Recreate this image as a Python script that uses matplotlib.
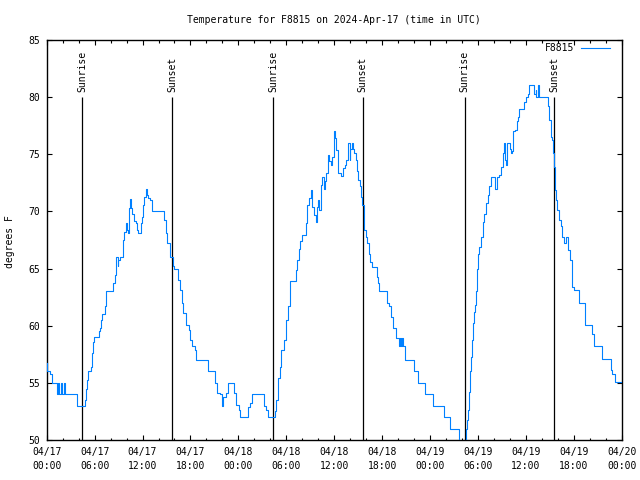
import matplotlib
matplotlib.use("Agg")
import matplotlib.pyplot as plt
from matplotlib.lines import Line2D
from datetime import datetime, timedelta

START = datetime(2024, 4, 17)
STATION = "F8815"

# hours since 04/17 00:00 UTC where the reading changes, and the new value (deg F)
HOURS = [0.00, 0.08, 0.41, 0.66, 1.25, 1.45, 1.60, 1.80, 1.95, 2.15, 2.30, 3.83,
         4.79, 4.87, 4.99, 5.20, 5.49, 5.62, 5.74, 5.83, 5.91, 6.58, 6.66, 6.79,
         6.91, 7.29, 7.41, 8.33, 8.54, 8.66, 8.74, 8.87, 8.99, 9.16, 9.58, 9.70,
         9.91, 10.04, 10.20, 10.33, 10.45, 10.58, 10.70, 10.87, 11.16, 11.33, 11.45, 11.87,
         11.99, 12.12, 12.24, 12.41, 12.49, 12.62, 12.74, 12.99, 13.16, 14.70, 14.91, 15.12,
         15.49, 15.83, 16.00, 16.46, 16.67, 16.92, 17.08, 17.42, 17.83, 18.00, 18.25, 18.54,
         18.67, 20.21, 21.04, 21.33, 21.67, 21.96, 22.08, 22.42, 22.71, 23.42, 23.75, 24.08,
         24.17, 25.21, 25.50, 25.71, 27.17, 27.50, 27.71, 28.54, 28.75, 28.96, 29.17, 29.38,
         29.67, 29.92, 30.21, 30.42, 30.50, 31.17, 31.33, 31.58, 31.75, 31.96, 32.42, 32.63,
         32.83, 33.13, 33.25, 33.42, 33.67, 33.83, 34.00, 34.08, 34.29, 34.38, 34.50, 34.71,
         34.88, 35.00, 35.21, 35.33, 35.54, 35.75, 35.92, 36.08, 36.25, 36.46, 36.88, 37.08,
         37.29, 37.50, 37.67, 37.75, 37.92, 38.04, 38.21, 38.33, 38.54, 38.75, 38.88, 39.04,
         39.17, 39.33, 39.50, 39.67, 39.79, 39.92, 40.08, 40.33, 40.54, 40.71, 41.33, 41.46,
         41.67, 42.63, 42.92, 43.13, 43.42, 43.75, 44.17, 44.30, 44.38, 44.50, 44.58, 44.88,
         45.95, 46.45, 47.41, 48.41, 49.70, 50.49, 51.66, 52.45, 52.58, 52.70, 52.83, 53.00,
         53.13, 53.25, 53.33, 53.46, 53.63, 53.75, 53.88, 54.00, 54.17, 54.38, 54.58, 54.79,
         55.00, 55.21, 55.42, 55.63, 56.17, 56.33, 56.58, 56.92, 57.08, 57.21, 57.33, 57.50,
         57.63, 58.00, 58.13, 58.25, 58.42, 58.67, 58.83, 59.00, 59.17, 59.79, 60.00, 60.21,
         60.42, 61.08, 61.25, 61.33, 61.46, 61.67, 62.71, 62.92, 63.13, 63.25, 63.42, 63.54,
         63.63, 63.75, 63.96, 64.17, 64.38, 64.58, 64.79, 65.00, 65.33, 65.50, 65.75, 65.83,
         66.04, 66.67, 67.38, 68.33, 68.54, 69.58, 70.63, 70.83, 71.13, 72.00]
TEMP_F = [56.7, 56.0, 55.8, 55.0, 54.0, 55.0, 54.0, 55.0, 54.0, 55.0, 54.0, 53.0,
          53.5, 54.5, 55.25, 56.0, 56.4, 57.6, 58.3, 58.6, 59.0, 59.5, 59.8, 60.5,
          61.0, 61.7, 63.0, 63.7, 64.4, 65.6, 66.0, 65.2, 65.75, 66.0, 67.5, 68.2,
          69.0, 68.4, 68.1, 70.3, 71.1, 70.3, 69.8, 69.2, 69.0, 68.4, 68.1, 69.0,
          69.5, 70.6, 71.3, 71.7, 72.0, 71.4, 71.15, 71.0, 70.0, 69.25, 68.1, 67.2,
          66.0, 65.2, 65.0, 64.0, 63.1, 62.0, 61.1, 60.1, 59.6, 58.75, 58.2, 57.9,
          57.0, 56.0, 55.0, 54.1, 54.0, 53.0, 53.8, 54.1, 55.0, 54.1, 53.1, 52.6,
          52.0, 52.9, 53.2, 54.0, 53.0, 52.6, 52.0, 52.5, 53.5, 55.4, 56.4, 57.9,
          58.75, 60.5, 61.7, 63.4, 63.9, 64.9, 65.75, 66.7, 67.4, 67.9, 69.0, 70.6,
          71.2, 71.9, 70.4, 69.7, 69.1, 70.4, 71.0, 70.1, 70.7, 72.3, 73.0, 72.0,
          72.7, 73.4, 74.9, 74.4, 74.1, 74.8, 77.0, 76.4, 75.4, 73.4, 73.1, 73.8,
          74.1, 74.5, 75.5, 76.0, 74.5, 75.5, 76.0, 75.5, 75.1, 74.5, 73.5, 72.75,
          72.2, 71.3, 70.6, 69.5, 68.4, 67.8, 67.2, 66.3, 65.6, 65.1, 64.3, 63.7,
          63.0, 62.0, 61.7, 60.8, 59.8, 58.9, 58.2, 58.9, 58.2, 58.9, 58.2, 57.0,
          56.0, 55.0, 54.0, 53.0, 52.0, 51.0, 49.5, 51.0, 51.75, 52.6, 54.2, 56.0,
          57.3, 58.75, 60.2, 61.2, 61.8, 63.0, 65.0, 66.3, 66.9, 67.8, 69.1, 69.8,
          70.7, 71.4, 72.2, 73.0, 72.0, 73.0, 73.2, 73.9, 75.1, 76.0, 74.5, 74.1,
          76.0, 75.5, 75.1, 75.3, 77.0, 77.1, 77.9, 78.3, 79.0, 79.6, 80.0, 80.3,
          81.1, 80.3, 80.6, 80.0, 81.1, 80.0, 79.2, 78.0, 76.5, 76.25, 75.1, 73.9,
          71.9, 71.0, 70.1, 69.25, 68.7, 67.8, 67.2, 67.8, 66.6, 65.75, 65.2, 63.4,
          63.1, 62.0, 60.1, 59.3, 58.2, 57.1, 56.1, 55.8, 55.1, 55.0]

SUNRISE = ["2024-04-17 04:27", "2024-04-18 04:20", "2024-04-19 04:20"]
SUNSET = ["2024-04-17 15:43", "2024-04-18 15:35", "2024-04-19 15:35"]

YTICKS = [50, 55, 60, 65, 70, 75, 80, 85]
SPAN_H = 72


def hours_of(stamp):
    t = datetime.strptime(stamp, "%Y-%m-%d %H:%M")
    return (t - START).total_seconds() / 3600.0


plt.rcParams["font.family"] = ["DejaVu Sans Mono"]
plt.rcParams["font.size"] = 7

BLUE = "#0080ff"

fig = plt.figure(figsize=(6.4, 4.8), dpi=100)
ax = fig.add_axes([46.7/640, 40/480, 575/640, 400/480])

ax.plot(HOURS, TEMP_F, drawstyle="steps-post", color=BLUE, lw=0.8, zorder=3)

for stamp, name in [(s, "Sunrise") for s in SUNRISE] + [(s, "Sunset") for s in SUNSET]:
    h = hours_of(stamp)
    ax.vlines(h, 50, 80, colors="black", lw=0.9, zorder=2)
    ax.text(h, 80.45, name, rotation=90, ha="center", va="bottom", fontsize=7)

ax.set_xlim(0, SPAN_H)
ax.set_ylim(50, 85)
major = list(range(0, SPAN_H + 1, 6))
ax.set_xticks(major)
ax.set_xticklabels([(START + timedelta(hours=h)).strftime("%m/%d\n%H:%M") for h in major],
                   linespacing=1.45)
ax.set_xticks(list(range(0, SPAN_H + 1, 2)), minor=True)
ax.set_yticks(YTICKS)
ax.tick_params(which="both", direction="in", top=True, right=True, width=0.8)
ax.tick_params(which="major", length=3.3)
ax.tick_params(which="minor", length=1.8)
ax.tick_params(axis="x", pad=5)
ax.tick_params(axis="y", pad=5)
for sp in ax.spines.values():
    sp.set_linewidth(1.0)

fig.text(334/640, 1 - 20/480, f"Temperature for {STATION} on 2024-Apr-17 (time in UTC)",
         ha="center", va="center", fontsize=7)
fig.text(10/640, 1 - 242/480, "degrees F", rotation=90, ha="center", va="center", fontsize=7)

handle = Line2D([0], [0], color=BLUE, lw=0.8)
ax.legend([handle], [STATION], loc="upper right", bbox_to_anchor=(610/640, 1 - 43/480),
          bbox_transform=fig.transFigure, frameon=False, markerfirst=False,
          handlelength=3.0, handletextpad=0.7, borderpad=0, borderaxespad=0, fontsize=7)

fig.savefig("out.png", dpi=100)
